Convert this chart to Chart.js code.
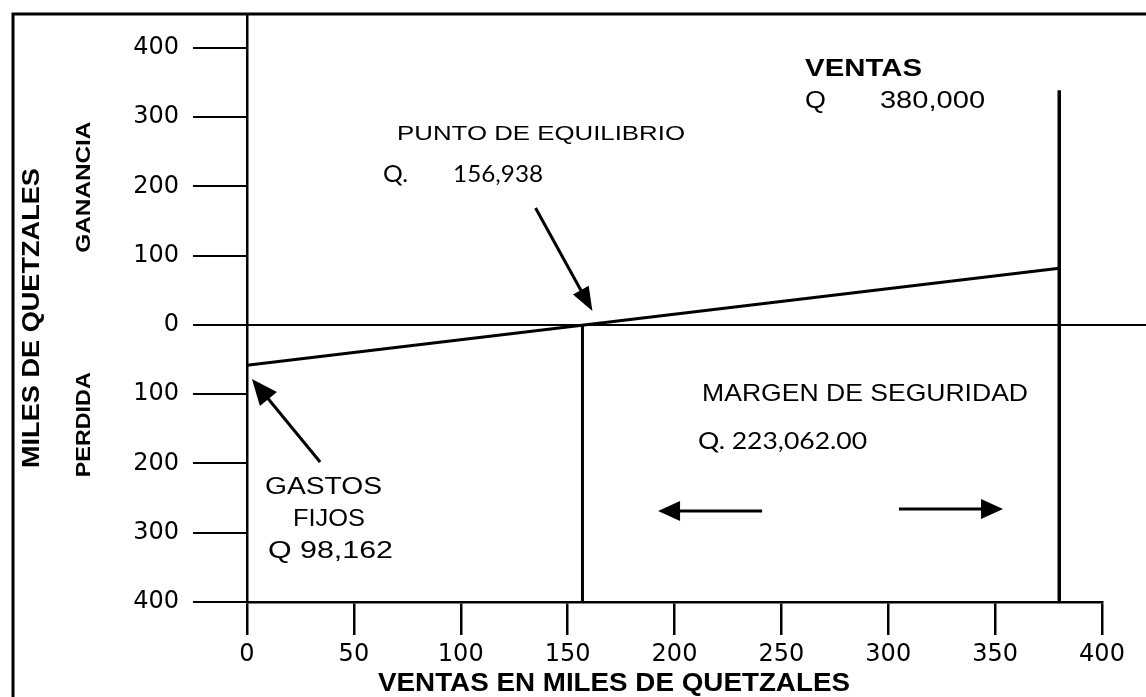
<!DOCTYPE html>
<html lang="es">
<head>
<meta charset="utf-8">
<title>Punto de equilibrio</title>
<script src="https://cdn.jsdelivr.net/npm/chart.js@4.4.1/dist/chart.umd.min.js"></script>
<style>
  html, body { margin: 0; padding: 0; background: #fff; }
  canvas { display: block; }
</style>
</head>
<body>
<canvas id="equilibrio" width="1146" height="697"></canvas>
<script>
// Montos en miles de quetzales
const ventasTicks = [0, 50, 100, 150, 200, 250, 300, 350, 400];
const montoTicks = [-400, -300, -200, -100, 0, 100, 200, 300, 400];
const utilidadX = [0, 380];
const utilidadY = [-58, 82];
const puntoEquilibrio = 156.938;
const ventasTotales = 380;
const gastosFijos = 98.162;
const margenSeguridad = 223.062;
const ventasTope = 339;

const miles = v => Math.round(v * 1000).toLocaleString('en-US');
const milesDec = v => (v * 1000).toLocaleString('en-US', { minimumFractionDigits: 2, maximumFractionDigits: 2 });

const ARIAL = '"Liberation Sans", Arial, sans-serif';
const CALIBRI = 'Lato, "Open Sans", sans-serif';

// textos: x en ventas (inicio, fin), y en monto
const textos = [
  { t: 'PUNTO DE EQUILIBRIO', x: [70.2, 204.9], y: 275.8, font: '21px ' + ARIAL },
  { t: 'Q.', x: [63.6, 75.3], y: 216.6, font: '23px ' + CALIBRI },
  { t: miles(puntoEquilibrio), x: [96.4, 138.5], y: 216.6, font: '23px ' + CALIBRI },
  { t: 'VENTAS', x: [261.1, 315.8], y: 368.2, font: 'bold 23px ' + ARIAL },
  { t: 'Q', x: [261.1, 270.9], y: 323.5, font: '24px ' + ARIAL },
  { t: miles(ventasTotales), x: [296.1, 345.3], y: 323.5, font: '24px ' + ARIAL },
  { t: 'MARGEN DE SEGURIDAD', x: [212.9, 365.4], y: -99.6, font: '24px ' + ARIAL },
  { t: 'Q. ' + milesDec(margenSeguridad), x: [211, 290.1], y: -167.5, font: '24px ' + CALIBRI },
  { t: 'GASTOS', x: [8.4, 63.2], y: -235.4, font: '23px ' + ARIAL },
  { t: 'FIJOS', x: [21.5, 55.2], y: -281.6, font: '23px ' + ARIAL },
  { t: 'Q ' + miles(gastosFijos), x: [9.8, 68.3], y: -327.8, font: '23px ' + ARIAL }
];

// flechas: desde -> punta, en unidades de los ejes
const flechas = [
  { de: [135, 169], a: [161.6, 20], head: 24, half: 9 },
  { de: [34.2, -197.8], a: [2.3, -78], head: 26, half: 11 },
  { de: [241, -268.6], a: [192.3, -268.6], head: 22, half: 10 },
  { de: [305, -265.7], a: [353.7, -265.7], head: 22, half: 10 }
];

function fitText(ctx, text, x0, x1, y, font) {
  ctx.save();
  ctx.font = font;
  const w = ctx.measureText(text).width;
  ctx.translate(x0, y);
  ctx.scale((x1 - x0) / w, 1);
  ctx.textAlign = 'left';
  ctx.textBaseline = 'middle';
  ctx.fillStyle = '#000';
  ctx.fillText(text, 0, 0);
  ctx.restore();
}

function vertText(ctx, text, cx, cy, len, font) {
  ctx.save();
  ctx.font = font;
  const w = ctx.measureText(text).width;
  ctx.translate(cx, cy);
  ctx.rotate(-Math.PI / 2);
  ctx.scale(len / w, 1);
  ctx.textAlign = 'center';
  ctx.textBaseline = 'middle';
  ctx.fillStyle = '#000';
  ctx.fillText(text, 0, 0);
  ctx.restore();
}

function drawArrow(ctx, x0, y0, x1, y1, head, half) {
  const a = Math.atan2(y1 - y0, x1 - x0);
  ctx.save();
  ctx.strokeStyle = '#000';
  ctx.fillStyle = '#000';
  ctx.lineWidth = 3;
  ctx.beginPath();
  ctx.moveTo(x0, y0);
  ctx.lineTo(x1 - Math.cos(a) * head * 0.7, y1 - Math.sin(a) * head * 0.7);
  ctx.stroke();
  ctx.translate(x1, y1);
  ctx.rotate(a);
  ctx.beginPath();
  ctx.moveTo(0, 0);
  ctx.lineTo(-head, -half);
  ctx.lineTo(-head, half);
  ctx.closePath();
  ctx.fill();
  ctx.restore();
}

const anotaciones = {
  id: 'anotaciones',
  beforeDatasetsDraw(chart) {
    // línea de cero, continúa hasta el borde derecho
    const { ctx, scales: { y }, chartArea } = chart;
    const y0 = y.getPixelForValue(0);
    ctx.save();
    ctx.strokeStyle = '#000';
    ctx.lineWidth = 2;
    ctx.beginPath();
    ctx.moveTo(chartArea.left, y0);
    ctx.lineTo(chart.width, y0);
    ctx.stroke();
    ctx.restore();
  },
  afterDraw(chart) {
    const { ctx, scales: { x, y }, chartArea } = chart;
    textos.forEach(o => {
      fitText(ctx, o.t, x.getPixelForValue(o.x[0]), x.getPixelForValue(o.x[1]), y.getPixelForValue(o.y), o.font);
    });
    flechas.forEach(f => {
      drawArrow(ctx, x.getPixelForValue(f.de[0]), y.getPixelForValue(f.de[1]),
        x.getPixelForValue(f.a[0]), y.getPixelForValue(f.a[1]), f.head, f.half);
    });

    // títulos de los ejes
    const L = chartArea.left;
    vertText(ctx, 'MILES DE QUETZALES', L - 214, y.getPixelForValue(10), 300, 'bold 23px ' + ARIAL);
    vertText(ctx, 'GANANCIA', L - 163, y.getPixelForValue(199), 131, 'bold 21px ' + ARIAL);
    vertText(ctx, 'PERDIDA', L - 163, y.getPixelForValue(-144), 105, 'bold 21px ' + ARIAL);
    fitText(ctx, 'VENTAS EN MILES DE QUETZALES', x.getPixelForValue(61.3), x.getPixelForValue(282.1), 684, 'bold 25px ' + ARIAL);

    // marco
    ctx.save();
    ctx.strokeStyle = '#000';
    ctx.lineWidth = 3;
    ctx.beginPath();
    ctx.moveTo(13, chart.height);
    ctx.lineTo(13, 14);
    ctx.lineTo(chart.width, 14);
    ctx.stroke();
    ctx.restore();
  }
};

const linea = (data, width) => ({
  data, showLine: true, borderColor: '#000', borderWidth: width,
  pointRadius: 0, fill: false, tension: 0, clip: false
});

new Chart(document.getElementById('equilibrio').getContext('2d'), {
  type: 'scatter',
  data: {
    datasets: [
      linea(utilidadX.map((v, i) => ({ x: v, y: utilidadY[i] })), 3),
      linea([{ x: puntoEquilibrio, y: 0 }, { x: puntoEquilibrio, y: montoTicks[0] }], 3),
      linea([{ x: ventasTotales, y: ventasTope }, { x: ventasTotales, y: montoTicks[0] }], 3.5)
    ]
  },
  options: {
    responsive: false,
    animation: false,
    layout: { padding: { top: 14, right: 44, left: 0, bottom: 0 } },
    plugins: { legend: { display: false }, tooltip: { enabled: false } },
    scales: {
      x: {
        type: 'linear', min: 0, max: 400,
        afterBuildTicks: s => { s.ticks = ventasTicks.map(v => ({ value: v })); },
        afterFit: s => { s.height = 95; s.paddingLeft = 0; s.paddingRight = 0; },
        border: { display: true, color: '#000', width: 2.5 },
        grid: { drawOnChartArea: false, drawTicks: true, tickLength: 33, color: '#000', lineWidth: 2.5 },
        ticks: { color: '#000', padding: 5, maxRotation: 0, font: { family: 'DejaVu Sans', size: 24 } }
      },
      y: {
        type: 'linear', min: -400, max: 449,
        afterBuildTicks: s => { s.ticks = montoTicks.map(v => ({ value: v })); },
        afterFit: s => { s.width = 247; s.paddingTop = 0; s.paddingBottom = 0; },
        border: { display: true, color: '#000', width: 2.5 },
        grid: { drawOnChartArea: false, drawTicks: true, tickLength: 54, color: '#000', lineWidth: 2 },
        ticks: {
          color: '#000', padding: 14, font: { family: 'DejaVu Sans', size: 24 },
          callback: v => String(Math.abs(v))
        }
      }
    }
  },
  plugins: [anotaciones]
});
</script>
</body>
</html>
